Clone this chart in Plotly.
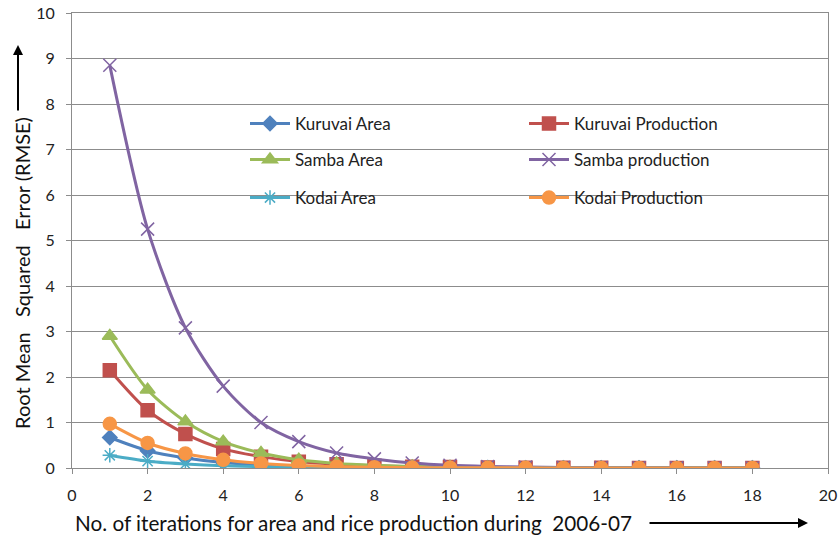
import plotly.graph_objects as go

iterations = list(range(1, 19))

kuruvai_area = [0.67, 0.38, 0.22, 0.12, 0.07, 0.04, 0.025, 0.015, 0.01, 0.006, 0.004, 0.003, 0.002, 0.002, 0.001, 0.001, 0.001, 0.001]
kuruvai_production = [2.15, 1.27, 0.75, 0.42, 0.25, 0.14, 0.08, 0.05, 0.03, 0.02, 0.012, 0.008, 0.005, 0.003, 0.002, 0.002, 0.001, 0.001]
samba_area = [2.9, 1.72, 1.02, 0.58, 0.33, 0.18, 0.1, 0.06, 0.035, 0.02, 0.012, 0.008, 0.005, 0.003, 0.002, 0.002, 0.001, 0.001]
samba_production = [8.85, 5.25, 3.08, 1.8, 1.0, 0.58, 0.33, 0.2, 0.11, 0.06, 0.035, 0.02, 0.012, 0.008, 0.005, 0.003, 0.002, 0.001]
kodai_area = [0.28, 0.15, 0.09, 0.05, 0.03, 0.018, 0.01, 0.006, 0.004, 0.003, 0.002, 0.001, 0.001, 0.001, 0.001, 0.001, 0.001, 0.001]
kodai_production = [0.97, 0.55, 0.32, 0.18, 0.1, 0.055, 0.03, 0.018, 0.01, 0.006, 0.004, 0.003, 0.002, 0.001, 0.001, 0.001, 0.001, 0.001]

W, H = 840, 537
L, R, T, B = 72, 12, 13, 69          # plot area margins in pixels
pw, ph = W - L - R, H - T - B

def px(xp):
    return (xp - L) / pw

def py(yp):
    return (H - B - yp) / ph

# (name, values, colour, symbol, size, legend id, legend x px, legend y px)
series = [
    ("Kuruvai Area", kuruvai_area, "#4F81BD", "diamond", 11, "legend", 245, 124),
    ("Kuruvai Production", kuruvai_production, "#C0504D", "square", 13, "legend2", 524, 124),
    ("Samba Area", samba_area, "#9BBB59", "triangle-up", 13, "legend3", 245, 160),
    ("Samba production", samba_production, "#8064A2", "x-thin-open", 13, "legend4", 524, 160),
    ("Kodai Area", kodai_area, "#4BACC6", "asterisk-open", 12, "legend5", 245, 198),
    ("Kodai Production", kodai_production, "#F79646", "circle", 13, "legend6", 524, 198),
]

FONT = "Lato, 'Open Sans', sans-serif"

fig = go.Figure()
legends = {}
for name, vals, color, sym, size, lg, lx, ly in series:
    fig.add_trace(go.Scatter(
        x=iterations, y=vals, name=name, mode="lines+markers",
        line=dict(color=color, width=3, shape="spline", smoothing=0.8),
        marker=dict(symbol=sym, size=size, color=color,
                    line=dict(color=color, width=1.5)),
        legend=lg, showlegend=True,
    ))
    legends[lg] = dict(x=px(lx), y=py(ly), xanchor="left", yanchor="middle",
                       bgcolor="rgba(0,0,0,0)", itemwidth=40, visible=True,
                       font=dict(family=FONT, size=17, color="#222"))

fig.update_layout(
    width=W, height=H, showlegend=True,
    margin=dict(l=L, r=R, t=T, b=B, autoexpand=False),
    paper_bgcolor="white", plot_bgcolor="white",
    font=dict(family=FONT, size=16, color="#222"),
    xaxis=dict(range=[0, 20], tickvals=list(range(0, 21, 2)),
               showgrid=False, zeroline=False, showline=True, mirror=True,
               linecolor="#8c8c8c", linewidth=1,
               ticks="outside", ticklen=5, tickcolor="#8c8c8c",
               tickfont=dict(size=16, color="#222"), ticklabelstandoff=8),
    yaxis=dict(range=[0, 10], tickvals=list(range(0, 11)),
               showgrid=True, gridcolor="#8c8c8c", gridwidth=1,
               zeroline=False, showline=True, linecolor="#8c8c8c",
               linewidth=1, mirror=True,
               ticks="outside", ticklen=5, tickcolor="#8c8c8c",
               tickfont=dict(size=16, color="#222"), ticklabelstandoff=8,
               ticklabeloverflow="allow"),
    **legends,
)

NB = "\u00a0"
fig.add_annotation(text="No. of iterations for area and rice production during" + NB * 2 + "2006-07",
                   xref="paper", yref="paper", x=px(353), y=py(523),
                   showarrow=False, font=dict(size=20.7, color="#111"),
                   xanchor="center", yanchor="middle")
fig.add_annotation(text="Root Mean" + NB * 3 + "Squared" + NB * 3 + "Error (RMSE)",
                   xref="paper", yref="paper", x=px(22), y=py(273),
                   showarrow=False, textangle=-90, font=dict(size=20, color="#111"),
                   xanchor="center", yanchor="middle")
fig.add_annotation(text="", xref="paper", yref="paper", x=px(808), y=py(523),
                   ax=-160, ay=0, showarrow=True, arrowhead=2, arrowsize=1,
                   arrowwidth=2, arrowcolor="#000")
fig.add_annotation(text="", xref="paper", yref="paper", x=px(18), y=py(45),
                   ax=0, ay=67, showarrow=True, arrowhead=2, arrowsize=1,
                   arrowwidth=2, arrowcolor="#000")

fig.write_html("out.html", config={"displayModeBar": False},
               post_script="document.body.style.margin='0';document.body.style.overflow='hidden';")
